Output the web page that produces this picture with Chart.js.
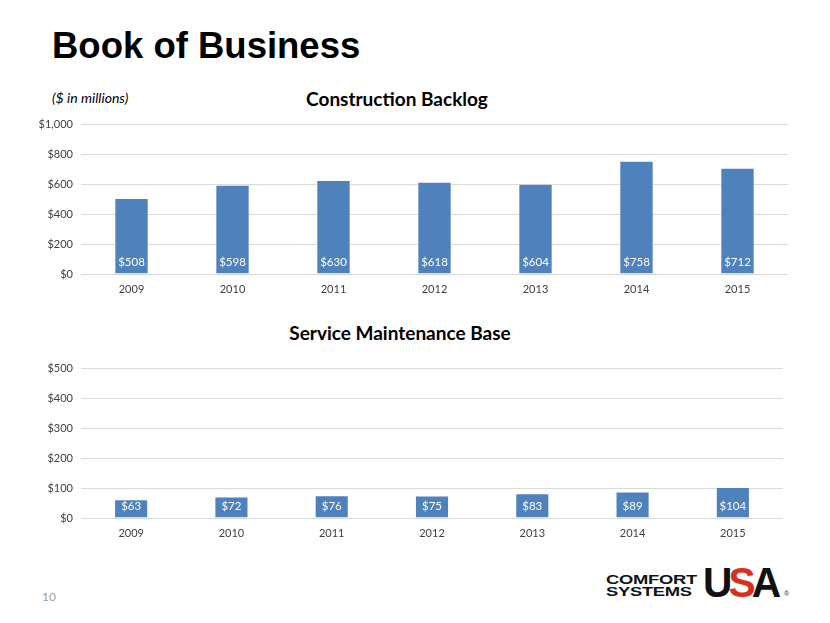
<!DOCTYPE html>
<html>
<head>
<meta charset="utf-8">
<script src="https://cdn.jsdelivr.net/npm/chart.js@4/dist/chart.umd.min.js"></script>
<style>
  html, body { margin: 0; padding: 0; background: #ffffff; }
  body { width: 830px; height: 623px; position: relative; overflow: hidden; }
  .abs { position: absolute; white-space: nowrap; }
  #title { left: 52px; top: 25px; font: bold 36.5px "Liberation Sans", Arial, sans-serif; color: #000; }
  #unit { left: 52px; top: 89px; font: italic 14px "Lato", "Open Sans", sans-serif; color: #000; }
  .ctitle { font: bold 19px "Lato", "Open Sans", sans-serif; color: #000; transform: translateX(-50%); }
  #t1 { left: 397px; top: 87px; }
  #t2 { left: 400px; top: 321px; }
  #page { left: 42px; top: 589px; font: 12px "Lato", sans-serif; color: #a0a0a0; }
  #logo { left: 606px; top: 568px; height: 32px; }
  #logo .cs { position: absolute; left: 0; top: 6px; font: 900 13.5px/11.5px "Liberation Sans", Arial, sans-serif; color: #111; letter-spacing: -0.2px; transform: scaleX(1.36); transform-origin: left top; }
  #logo .usa { position: absolute; left: 97px; top: -4px; font: bold 42px/38px "Liberation Sans", Arial, sans-serif; color: #111; letter-spacing: -4px; transform: scaleX(0.97); transform-origin: left top; }
  #logo .usa .s { color: #d9301c; }
  #logo .reg { position: absolute; left: 178px; top: 22px; font: 7px "Liberation Sans", sans-serif; color: #333; }
  canvas { position: absolute; }
</style>
</head>
<body>
<div id="title" class="abs">Book of Business</div>
<div id="unit" class="abs">($ in millions)</div>
<div id="t1" class="abs ctitle">Construction Backlog</div>
<div id="t2" class="abs ctitle">Service Maintenance Base</div>
<div id="page" class="abs">10</div>
<div id="logo" class="abs"><span class="cs">COMFORT<br>SYSTEMS</span><span class="usa">U<span class="s">S</span>A</span><span class="reg">®</span></div>
<canvas id="c1" width="780" height="190" style="left:20px; top:110px;"></canvas>
<canvas id="c2" width="780" height="191" style="left:20px; top:354px;"></canvas>
<script>
const years = ['2009', '2010', '2011', '2012', '2013', '2014', '2015'];
const backlog = [508, 598, 630, 618, 604, 758, 712];
const serviceBase = [63, 72, 76, 75, 83, 89, 104];
const backlogMax = 1000, backlogStep = 100, backlogMajor = 200;
const serviceMax = 500, serviceStep = 50, serviceMajor = 100;

const FONT = '"Lato", "Open Sans", sans-serif';
const BAR = '#4f81bd';

const labelPlugin = {
  id: 'baseLabels',
  afterDatasetsDraw(chart) {
    const ctx = chart.ctx;
    const meta = chart.getDatasetMeta(0);
    const data = chart.data.datasets[0].data;
    ctx.save();
    ctx.fillStyle = '#ffffff';
    ctx.font = '11.5px ' + FONT;
    ctx.textAlign = 'center';
    ctx.textBaseline = 'middle';
    meta.data.forEach((bar, i) => {
      ctx.fillText('$' + data[i], bar.x, bar.base - 11);
    });
    ctx.restore();
  }
};

function makeChart(id, values, max, step, major, yWidth, xHeight, pad) {
  return new Chart(document.getElementById(id), {
    type: 'bar',
    data: {
      labels: years,
      datasets: [{
        data: values,
        backgroundColor: BAR,
        borderColor: 'rgba(255,255,255,0.7)',
        borderWidth: 1,
        barPercentage: 0.34,
        categoryPercentage: 1.0
      }]
    },
    options: {
      responsive: false,
      devicePixelRatio: 1,
      animation: false,
      layout: { padding: pad },
      plugins: { legend: { display: false }, tooltip: { enabled: false } },
      scales: {
        x: {
          grid: { display: false, drawTicks: false },
          border: { display: false },
          ticks: { color: '#404040', font: { family: FONT, size: 11 }, padding: 9, maxRotation: 0 },
          afterFit(s) { s.height = xHeight; }
        },
        y: {
          min: 0, max: max,
          grid: {
            drawTicks: false,
            color: (c) => (c.tick && c.tick.value % major === 0) ? '#d9d9d9' : '#efefef',
            lineWidth: 1
          },
          border: { display: false },
          ticks: {
            stepSize: step,
            color: '#404040',
            font: { family: FONT, size: 11 },
            padding: 8,
            callback: (v) => v % major === 0 ? '$' + v.toLocaleString('en-US') : ''
          },
          afterFit(s) { s.width = yWidth; }
        }
      }
    },
    plugins: [labelPlugin]
  });
}

makeChart('c1', backlog, backlogMax, backlogStep, backlogMajor, 61, 26, { top: 3, right: 12, left: 0, bottom: 0 });
makeChart('c2', serviceBase, serviceMax, serviceStep, serviceMajor, 61, 27, { top: 1, right: 17, left: 0, bottom: 0 });
</script>
</body>
</html>
